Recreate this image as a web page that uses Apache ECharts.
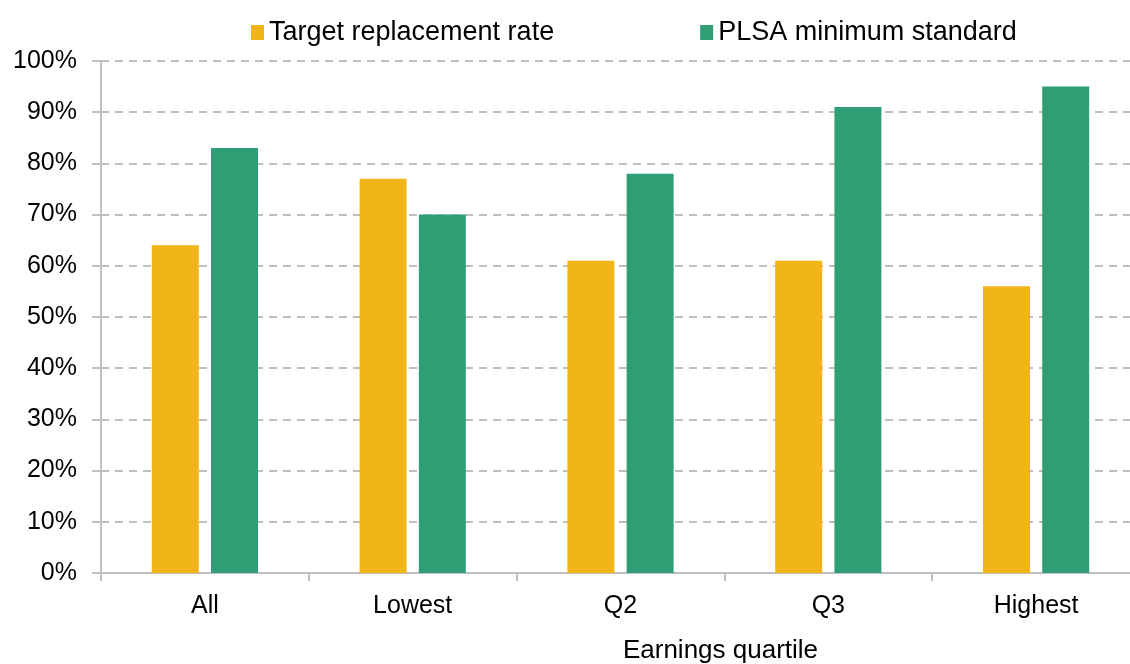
<!DOCTYPE html>
<html lang="en">
  <head>
    <meta charset="UTF-8" />
    <title>Replacement rates by earnings quartile</title>
    <script src="https://cdn.jsdelivr.net/npm/echarts@6.0.0/dist/echarts.min.js"></script>
    <style>
      html, body { margin: 0; padding: 0; background: #fff; }
      #app { width: 1130px; height: 664px; }
    </style>
  </head>
  <body>
    <div id="app"></div>
    <script>
      const categories = ["All", "Lowest", "Q2", "Q3", "Highest"];
      const targetRate = [64, 77, 61, 61, 56];
      const plsaMinimum = [83, 70, 78, 91, 95];

      const font = "Liberation Sans, Arial, sans-serif";
      const chart = echarts.init(document.getElementById("app"));

      chart.setOption({
        animation: false,
        textStyle: { fontFamily: font },
        legend: {
          top: 14,
          left: 246,
          itemGap: 146,
          itemWidth: 13,
          itemHeight: 15,
          icon: "rect",
          textStyle: { fontSize: 27, color: "#000", fontFamily: font },
        },
        grid: {
          left: 101,
          top: 61,
          width: 1039,
          height: 512,
          containLabel: false,
          outerBoundsMode: "none",
        },
        xAxis: {
          type: "category",
          data: categories,
          name: "Earnings quartile",
          nameLocation: "middle",
          nameGap: 65,
          nameTextStyle: { fontSize: 26, color: "#000", padding: [0, 0, 0, 200] },
          axisLine: { lineStyle: { color: "#bfbfbf", width: 2 } },
          axisTick: { show: true, length: 8, lineStyle: { color: "#bfbfbf", width: 2 } },
          axisLabel: { fontSize: 25, color: "#000", margin: 21 },
        },
        yAxis: {
          type: "value",
          min: 0,
          max: 100,
          interval: 10,
          axisLine: { show: true, lineStyle: { color: "#bfbfbf", width: 2 } },
          axisTick: { show: true, length: 9, lineStyle: { color: "#bfbfbf", width: 2 } },
          axisLabel: { fontSize: 25, color: "#000", margin: 24, formatter: "{value}%" },
          splitLine: { lineStyle: { color: "#bfbfbf", width: 2, type: [8, 6] } },
        },
        series: [
          {
            name: "Target replacement rate",
            type: "bar",
            data: targetRate,
            barWidth: 47,
            barGap: "26%",
            itemStyle: { color: "#F1B51A" },
          },
          {
            name: "PLSA minimum standard",
            type: "bar",
            data: plsaMinimum,
            barWidth: 47,
            itemStyle: { color: "#2F9E75" },
          },
        ],
      });
    </script>
  </body>
</html>
